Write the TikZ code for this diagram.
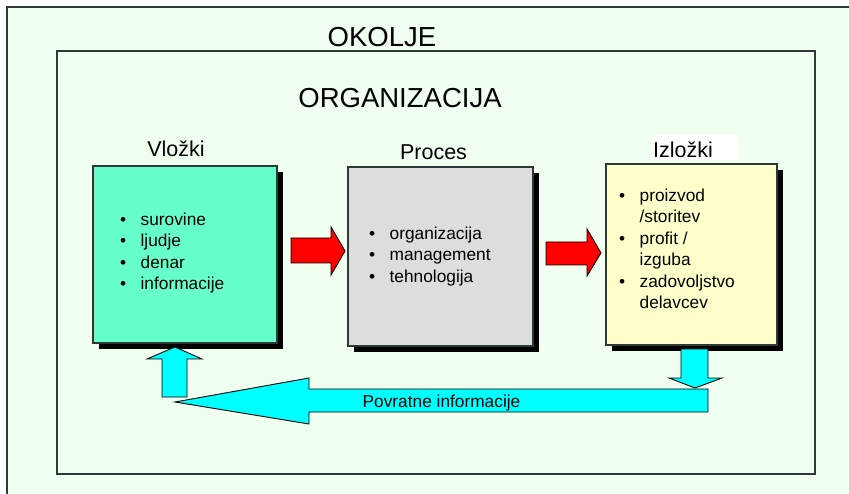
\documentclass[tikz,border=0pt]{standalone}
\usepackage{fontspec}
\setmainfont{Liberation Sans}
\usetikzlibrary{shadows}
\definecolor{envbg}{HTML}{F0FFF0}
\definecolor{frameln}{HTML}{2F3A36}
\definecolor{inbox}{HTML}{66FFCC}
\definecolor{procbox}{HTML}{DDDDDD}
\definecolor{outbox}{HTML}{FFFFCC}
\definecolor{flowred}{HTML}{FF0000}
\definecolor{feedcyan}{HTML}{00FFFF}
\newcommand{\bul}{\textbullet}
\begin{document}
\begin{tikzpicture}[x=1pt,y=-1pt,
  frame/.style={draw=frameln, line width=1.3pt},
  stagebox/.style={draw=frameln, line width=1.2pt, inner sep=0pt,
    drop shadow={shadow xshift=6pt, shadow yshift=-6pt, fill=black, opacity=1}},
  title/.style={font=\fontsize{27.5}{32}\selectfont, inner sep=0pt, anchor=base},
  stagelabel/.style={font=\fontsize{21.5}{25}\selectfont, inner sep=0pt, anchor=base},
  items/.style={font=\fontsize{17.3}{21.5}\selectfont, anchor=west, inner sep=0pt, align=left},
  blockarrow/.style={draw=black, line width=0.9pt, line join=miter}]
\useasboundingbox (0,0) rectangle (849,494);
\clip (0,0) rectangle (849,494);
\fill[white] (0,0) rectangle (849,494);

% environment and organization frames
\draw[frame, fill=envbg] (7,7) rectangle (880,520);
\draw[frame] (57,51) rectangle (815,474);
\node[title] (okolje) at (382,47) {OKOLJE};
\node[title] (org) at (400,108) {ORGANIZACIJA};

% stage boxes
\node[stagebox, fill=inbox, minimum width=184pt, minimum height=177pt] (vlozki) at (185,254.5) {};
\node[stagebox, fill=procbox, minimum width=185pt, minimum height=179pt] (proces) at (440.5,256.5) {};
\node[stagebox, fill=outbox, minimum width=171pt, minimum height=181pt] (izlozki) at (691.5,254.5) {};

% stage labels
\node[stagelabel] (lvl) at (176,157) {Vložki};
\node[stagelabel] (lpr) at (433.5,160) {Proces};
\node[draw=white, line width=0.8pt, fill=white, minimum width=85pt, minimum height=24pt, inner sep=0pt] (lizbg) at (694.5,147) {};
\node[stagelabel, anchor=base west] (liz) at (653,158) {Izložki};

% bullet lists
\node[items] (tvl) at (120,253) {\begin{tabular}{@{}l@{\hspace{14.4pt}}l@{}}
\bul & surovine\\ \bul & ljudje\\ \bul & denar\\ \bul & informacije\end{tabular}};
\node[items] (tpr) at (369,256.5) {\begin{tabular}{@{}l@{\hspace{14.4pt}}l@{}}
\bul & organizacija\\ \bul & management\\ \bul & tehnologija\end{tabular}};
\node[items] (tiz) at (619,250.5) {\begin{tabular}{@{}l@{\hspace{14.4pt}}l@{}}
\bul & proizvod\\ & /storitev\\ \bul & profit /\\ & izguba\\ \bul & zadovoljstvo\\ & delavcev\end{tabular}};

% flow arrows between stages
\draw[blockarrow, fill=flowred] (291,238) -- (331,238) -- (331,227) -- (345,251)
  -- (331,275) -- (331,263) -- (291,263) -- cycle;
\draw[blockarrow, fill=flowred] (546,242) -- (587,242) -- (587,229) -- (601,253)
  -- (587,276) -- (587,265) -- (546,265) -- cycle;

% feedback loop
\draw[blockarrow, fill=feedcyan] (681,349) -- (708,349) -- (708,378) -- (722,378)
  -- (695,388) -- (669,378) -- (681,378) -- cycle;
\draw[blockarrow, fill=feedcyan] (708,389) -- (708,412) -- (309,412) -- (309,424)
  -- (175,402) -- (309,378) -- (309,389) -- cycle;
\draw[blockarrow, fill=feedcyan] (162,397) -- (162,359) -- (147,359) -- (175,347)
  -- (202,359) -- (187,359) -- (187,397) -- cycle;
\node[font=\fontsize{17.3}{20}\selectfont, inner sep=0pt] (povr) at (441.5,403) {Povratne informacije};
\end{tikzpicture}
\end{document}
